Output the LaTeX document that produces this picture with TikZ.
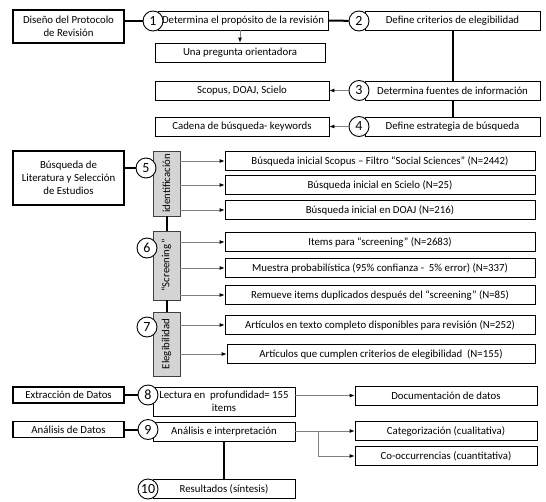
\documentclass[tikz,border=0pt]{standalone}
\usepackage{fontspec}
\setmainfont{Carlito}
\usepackage{graphicx}
\usetikzlibrary{arrows.meta}
\begin{document}
\begin{tikzpicture}[x=1pt,y=-1pt,
  txt/.style={font=\fontsize{10.8}{13}\selectfont},
  box/.style={txt, draw=black, line width=0.8pt, fill=white, inner sep=1pt, align=center},
  bigbox/.style={txt, draw=black, line width=1.8pt, fill=white, inner sep=1pt, align=center},
  num/.style={circle, draw=black, line width=0.9pt, fill=white, minimum size=20pt, inner sep=0pt, font=\fontsize{14}{14}\selectfont},
  bar/.style={txt, draw=black!75, line width=0.8pt, fill=black!17, inner sep=0pt, minimum width=27pt},
  link/.style={line width=2pt, draw=black},
  arr/.style={draw=black!50, line width=0.8pt, -{Latex[length=5pt,width=4pt,black]}}
]
\useasboundingbox (0,0) rectangle (546,501);

% ---------- left column ----------
\node[bigbox, minimum width=111pt, minimum height=33pt] (L1) at (68.5,26.5) {Diseño del Protocolo\\de Revisión};
\node[bigbox, minimum width=111pt, minimum height=54pt] (L2) at (68.5,178) {Búsqueda de\\Literatura y Selección\\de Estudios};
\node[bigbox, minimum width=111pt, minimum height=16pt] (L3) at (68.5,395) {Extracción de Datos};
\node[bigbox, minimum width=111pt, minimum height=16pt] (L4) at (68.5,429.5) {Análisis de Datos};

% ---------- top block ----------
\node[box, minimum width=170pt, minimum height=19pt] (S1) at (243,20.5) {Determina el propósito de la revisión};
\node[box, minimum width=170pt, minimum height=19pt] (Q) at (240,52.5) {Una pregunta orientadora};
\node[box, minimum width=175pt, minimum height=19pt] (S2) at (452.5,20.5) {Define criterios de elegibilidad};
\node[box, minimum width=174pt, minimum height=19pt] (Sc) at (242,90.5) {Scopus, DOAJ, Scielo};
\node[box, minimum width=175pt, minimum height=19pt] (S3) at (452.5,90.5) {Determina fuentes de información};
\node[box, minimum width=174pt, minimum height=19pt] (Ca) at (242,126.5) {Cadena de búsqueda- keywords};
\node[box, minimum width=175pt, minimum height=19pt] (S4) at (452.5,126.5) {Define estrategia de búsqueda};

% ---------- search block ----------
\node[bar, minimum height=65pt] (B1) at (166.5,183.5) {\rotatebox{90}{identificación}};
\node[bar, minimum height=69pt] (B2) at (166.5,265.5) {\rotatebox{90}{“Screening”}};
\node[bar, minimum height=64pt] (B3) at (166.5,344) {\rotatebox{90}{Elegibilidad}};

\node[box, minimum width=310pt, minimum height=19pt] (A) at (380,161) {Búsqueda inicial Scopus – Filtro “Social Sciences” (N=2442)};
\node[box, minimum width=310pt, minimum height=19pt] (B) at (380,185) {Búsqueda inicial en Scielo (N=25)};
\node[box, minimum width=310pt, minimum height=19pt] (C) at (380,210) {Búsqueda inicial en DOAJ (N=216)};
\node[box, minimum width=310pt, minimum height=19pt] (D) at (380,242) {Items para “screening” (N=2683)};
\node[box, minimum width=310pt, minimum height=19pt] (E) at (380,268) {Muestra probabilística (95\% confianza -\ \ 5\% error) (N=337)};
\node[box, minimum width=310pt, minimum height=19pt] (F) at (380,295) {Remueve items duplicados después del “screening” (N=85)};
\node[box, minimum width=310pt, minimum height=19pt] (G) at (380,325) {Artículos en texto completo disponibles para revisión (N=252)};
\node[box, minimum width=308pt, minimum height=19pt] (H) at (381,354) {Artículos que cumplen criterios de elegibilidad\ \ (N=155)};

% ---------- lower block ----------
\node[box, minimum width=142pt, minimum height=29pt] (LB) at (224,401.5) {Lectura en\ \ profundidad= 155\\items};
\node[box, minimum width=182pt, minimum height=19pt] (Doc) at (446,395.5) {Documentación de datos};
\node[box, minimum width=142pt, minimum height=19pt] (AI) at (224,431.5) {Análisis e interpretación};
\node[box, minimum width=182pt, minimum height=19pt] (Cat) at (446,431) {Categorización (cualitativa)};
\node[box, minimum width=182pt, minimum height=19pt] (Co) at (446,456) {Co-occurrencias (cuantitativa)};
\node[box, minimum width=142pt, minimum height=19pt] (R) at (224,489) {Resultados (síntesis)};

% ---------- numbered circles ----------
\node[num] (c1) at (153,21) {1};
\node[num] (c2) at (359,21) {2};
\node[num] (c3) at (359,90.5) {3};
\node[num] (c4) at (359,126.5) {4};
\node[num] (c5) at (146,168) {5};
\node[num] (c6) at (147,248) {6};
\node[num] (c7) at (147,327) {7};
\node[num] (c8) at (148,395) {8};
\node[num] (c9) at (148,429.5) {9};
\node[num] (c10) at (148,489) {10};

% ---------- thick links ----------
\draw[link] (L1.east |- c1) -- (c1);
\draw[link] (S1.east) -- (c2);
\draw[link] (S2.south) -- (S3.north);
\draw[link] (S3.south) -- (S4.north);
\draw[link] (L2.east |- c5) -- (c5);
\draw[link] (B1.south) -- (B2.north);
\draw[link] (B2.south) -- (B3.north);
\draw[link] (L3.east |- c8) -- (c8);
\draw[link] (L4.east |- c9) -- (c9);
\draw[link] (AI.south) -- (R.north);

% ---------- gray arrows ----------
\draw[arr] (S1.south -| Q.north) -- (Q.north);
\draw[arr] (c3) -- (Sc.east);
\draw[arr] (c4) -- (Ca.east);
\draw[arr] (B1.east |- A.west) -- (A.west);
\draw[arr] (B1.east |- B.west) -- (B.west);
\draw[arr] (B1.east |- C.west) -- (C.west);
\draw[arr] (B2.east |- D.west) -- (D.west);
\draw[arr] (B2.east |- E.west) -- (E.west);
\draw[arr] (B2.east |- F.west) -- (F.west);
\draw[arr] (B3.east |- G.west) -- (G.west);
\draw[arr] (B3.east |- H.west) -- (H.west);
\draw[arr] (LB.east |- Doc.west) -- (Doc.west);
\coordinate (br) at (318,431);
\draw[arr] (AI.east |- Cat.west) -- (Cat.west);
\draw[arr] (br) |- (Co.west);
\end{tikzpicture}
\end{document}
